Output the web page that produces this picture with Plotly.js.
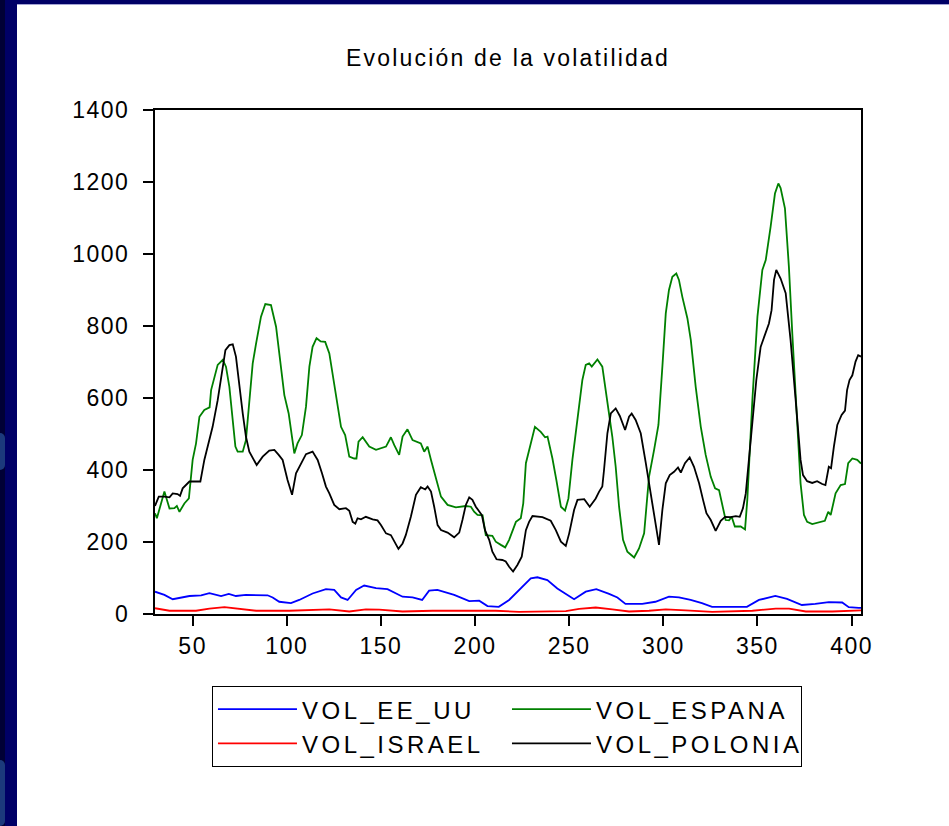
<!DOCTYPE html>
<html>
<head>
<meta charset="utf-8">
<script src="https://cdn.plot.ly/plotly-3.0.1.min.js"></script>
<style>
  html, body { margin: 0; padding: 0; width: 949px; height: 826px; overflow: hidden; background: #000066; }
  #strip { position: absolute; left: 0; top: 0; width: 5px; height: 826px; background: #000035; }
  .deco { position: absolute; left: 0; width: 5px; background: #1c3a7c; border-radius: 0 6px 6px 0; }
  #topline { position: absolute; left: 17px; top: 4px; width: 932px; height: 1px; background: #a4a4d4; }
  #chart { position: absolute; left: 17px; top: 5px; width: 932px; height: 821px; background: #ffffff; }
  .gtitle { letter-spacing: 2.2px; }
  .xtick text, .ytick text { letter-spacing: 1.5px; }
  .legendtext { letter-spacing: 3.5px; }
</style>
</head>
<body>
<div id="strip"></div>
<div class="deco" style="top:433px;height:37px;"></div>
<div class="deco" style="top:760px;height:66px;"></div>
<div id="topline"></div>
<div id="chart"></div>
<script>
// ---- Data ----
const chartTitle = 'Evolución de la volatilidad';
const seriesNames = ['VOL_EE_UU', 'VOL_ESPANA', 'VOL_ISRAEL', 'VOL_POLONIA'];

const eeuuX = [30,35,39.4,42.9,48.3,54.5,58.9,65.1,69.2,73,78.3,89.8,92.5,96,102.2,106.6,113.7,120.8,125.2,128.8,132.3,136.8,141.1,147.4,153.5,161.5,166.8,171.9,175.6,180,188.9,196.9,202.2,206.6,212.6,218.1,223.4,229.6,233.1,238.4,243.7,252.6,258.8,264.4,271.2,275.6,279.9,288.8,295.8,303,308.3,314.5,320.5,325.9,336.5,344.4,350.8,359.5,365.7,373.6,380.7,387.9,395,398.5,403.8,405];
const eeuuY = [62,53,41,44,50,52,58,50,56,50,53,52,46,34,30,39,57,69,67,46,39,67,79,72,69,48,46,39,65,67,53,36,37,22,20,39,67,99,102,94,71,41,62,69,56,46,28,28,34,48,46,39,30,20,20,20,39,50,42,25,28,33,32,19,17,17];

const espanaX = [30,31,35,37.7,40.3,41.6,43,45.6,48,50,51.8,53.6,56.2,59,59.8,61.5,63.3,66,67.7,69.5,71.2,72.7,73.9,76.6,78.3,80.1,81.9,83.7,86.3,88.6,91.6,94.3,96.9,98.7,101,102.8,104,105.7,108,110.2,112,113.7,115.8,118,120.4,122.6,125.2,127,128.8,131,133.2,135.8,137,138.1,140.3,143.8,147.4,152.7,155.3,157.1,159.7,161.5,164.1,166.8,171.2,173,174.8,176.6,179.2,181.9,185.4,189.8,195.1,197.8,199.5,201.3,204,205.7,209.2,211,213.7,216,218.1,219.9,221.7,224.3,225.6,227,229.1,231.8,234.9,237.2,238.5,241.1,243.2,245.6,247.8,249.6,251.7,254.4,257,258.8,260.6,262,265,267.6,270.3,272.9,274.7,276.5,278.6,280.9,284.5,287.1,289.8,292.4,295.1,297.4,299.5,301.3,303,304.8,306.9,308.3,310.1,312.8,314.6,317.2,319.9,322.5,325.2,327.5,329.6,331.4,333.1,334.9,336.3,338,341.1,343.4,344.6,347.3,350,352.6,354.4,357,359.3,361.1,362.3,364.6,366.7,368.5,370.6,372.9,374.7,376.4,379.1,382.6,385.8,387.6,388.9,391.5,394.2,396.5,398.2,400.4,403,405];
const espanaY = [280,266,340,293,294,300,284,307,321,428,474,548,567,574,622,659,692,706,687,631,548,465,451,451,483,594,696,752,826,861,858,798,687,608,557,483,446,474,497,576,687,742,766,757,756,724,641,576,520,497,437,432,432,479,491,465,456,465,491,469,442,493,513,483,474,451,465,428,377,326,303,296,300,298,284,275,274,219,217,201,192,185,206,229,256,266,307,419,465,520,506,491,493,432,372,298,287,321,428,539,650,692,696,687,707,687,594,493,409,298,206,173,157,182,224,381,456,525,687,835,900,937,946,928,881,821,761,631,520,442,381,349,344,303,261,260,270,243,243,235,317,594,826,956,983,1076,1168,1196,1183,1127,965,780,594,363,275,256,250,254,259,284,275,335,358,361,419,432,428,418];

const israelX = [30,37.7,51.8,58.9,66.9,74.8,83.7,101.3,106.6,122.6,133.2,142,149.1,161.5,177.4,198.6,211,223.4,248.2,255.3,264.1,272.9,281.8,292.4,301.3,311.9,326,347.3,359.7,366.8,375.7,389.8,403.8,405];
const israelY = [16,9,9,15,19,14,9,9,10,13,7,13,12,7,9,9,9,6,8,14,18,13,7,9,13,10,6,9,15,15,7,7,10,10];

const poloniaX = [30,30.6,32,35,37.7,39.4,42,43.3,44.7,48.3,54.1,56.2,58,60.6,63.3,65.1,67.4,69.5,71.3,73,74.8,76.6,78.3,80.1,84,87.2,90.7,93.4,95.7,97.8,100.4,102.8,104.9,107.6,110.2,113.7,116.4,118.7,120.8,122.6,125.2,127.9,131.4,133.2,135,136.4,137.6,139.4,142,145.6,148.2,150,152.7,155.3,157.1,159.3,161.5,163.2,165.9,168.6,171.2,173.5,174.8,176.6,178.3,180.1,181.9,185.4,188.9,191.6,193.3,195.1,196.9,198.6,200.4,203.6,205.3,207.5,209.2,211.4,214.5,216.3,218.1,220.2,222.5,224.8,227,228.7,230.5,235.8,240.2,242.9,245.6,248.2,250,252.6,254.4,258,260.9,264.1,265.9,267.6,268.5,270.3,272.1,274.7,276.9,279.7,281.8,283.2,285.3,288,290.7,293.3,295.6,297.7,299.5,301.3,303.4,305.7,307.8,309.3,311.5,314,316.3,319,321.1,322.9,325.2,327.8,330.5,332.8,335.8,338.5,340.6,342.3,343.8,345.5,347.3,349.4,351.7,354,356.1,357.5,358.8,360,362.3,365,367.6,370.3,372.9,374.2,376.4,379.1,381.7,384.4,386.1,387.9,389.1,390.6,392.4,394.7,396.5,397.6,398.9,400.4,402.1,403.5,405];
const poloniaY = [300,307,326,326,324,335,333,328,349,368,368,428,465,520,594,659,733,747,749,715,631,557,493,451,414,437,454,456,442,428,372,331,391,419,444,451,428,391,354,335,303,291,294,287,256,251,266,263,270,263,260,247,224,219,201,181,196,219,270,331,352,346,354,340,298,247,233,226,213,226,261,303,324,317,298,275,233,206,173,152,150,146,131,118,136,159,233,256,272,269,259,233,201,189,224,289,317,319,298,321,340,354,400,502,557,571,550,511,548,557,539,502,419,335,261,192,289,363,386,395,407,393,419,435,409,363,317,280,261,231,259,270,269,272,270,294,335,428,548,650,742,775,807,844,928,956,932,891,761,594,428,386,369,364,369,361,358,409,405,465,525,553,565,622,650,663,701,719,715];

const xRange = [30, 405];
const yRange = [0, 1400];
const xTickStep = 50;
const yTickStep = 200;

// ---- Styles ----
const colors = ['#0000ff', '#008000', '#ff0000', '#000000'];
const xs = [eeuuX, espanaX, israelX, poloniaX];
const ys = [eeuuY, espanaY, israelY, poloniaY];

const traces = seriesNames.map((name, i) => ({
  type: 'scatter',
  mode: 'lines',
  name: name,
  x: xs[i],
  y: ys[i],
  line: { color: colors[i], width: 1.8 },
  hoverinfo: 'skip'
}));

const fontFam = '"Liberation Sans", Arial, Helvetica, sans-serif';

const axisCommon = {
  showline: true, linecolor: '#000', linewidth: 2, mirror: true,
  ticks: 'outside', ticklen: 10, tickwidth: 2, tickcolor: '#000',
  showgrid: false, zeroline: false,
  tickfont: { family: fontFam, size: 23, color: '#000' }
};

const layout = {
  width: 932, height: 821,
  paper_bgcolor: '#ffffff', plot_bgcolor: '#ffffff',
  margin: { l: 138, r: 88, t: 105, b: 212, pad: 0 },
  font: { family: fontFam, color: '#000' },
  title: {
    text: chartTitle,
    font: { family: fontFam, size: 23, color: '#000' },
    x: 0.5, xref: 'paper', xanchor: 'center',
    y: 0.9354, yref: 'container', yanchor: 'middle'
  },
  xaxis: Object.assign({}, axisCommon, {
    range: xRange, tick0: 0, dtick: xTickStep, ticklabelstandoff: 0
  }),
  yaxis: Object.assign({}, axisCommon, {
    range: yRange, tick0: 0, dtick: yTickStep, ticklabelstandoff: 9
  }),
  showlegend: true,
  legend: {
    orientation: 'h',
    x: 0.0807, xref: 'paper', xanchor: 'left',
    y: -0.143, yref: 'paper', yanchor: 'top',
    bordercolor: '#000', borderwidth: 1, bgcolor: '#ffffff',
    font: { family: fontFam, size: 24, color: '#000' },
    itemwidth: 79,
    entrywidth: 200, entrywidthmode: 'pixels',
    traceorder: 'normal'
  }
};

Plotly.newPlot('chart', traces, layout, { staticPlot: true, displayModeBar: false });
</script>
</body>
</html>
